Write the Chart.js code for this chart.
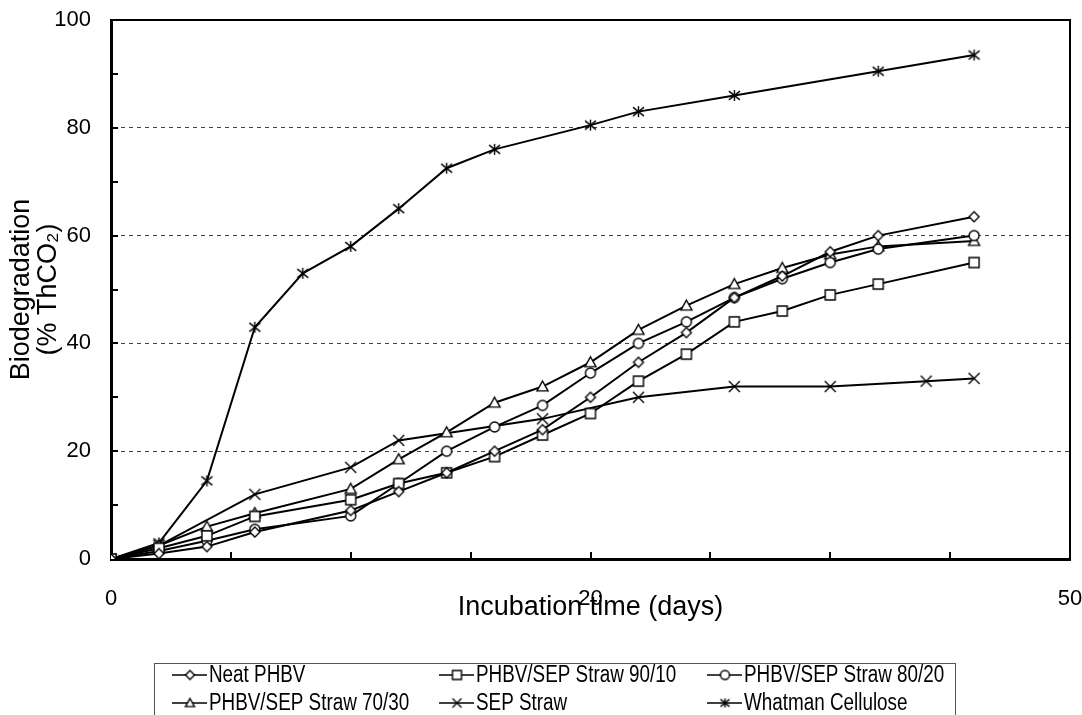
<!DOCTYPE html>
<html>
<head>
<meta charset="utf-8">
<title>Biodegradation</title>
<script src="https://cdn.jsdelivr.net/npm/chart.js@4.4.1/dist/chart.umd.min.js"></script>
<style>
    html, body { margin: 0; padding: 0; background: #fff; }
    canvas { display: block; }
</style>
</head>
<body>
<canvas id="chart" width="1082" height="715"></canvas>
<script>
// 图例名称
var seriesLabels = ['Neat PHBV', 'PHBV/SEP Straw 90/10', 'PHBV/SEP Straw 80/20',
                    'PHBV/SEP Straw 70/30', 'SEP Straw', 'Whatman Cellulose'];

// 时间（天）
var phbvDays = [0, 2, 4, 6, 10, 12, 14, 16, 18, 20, 22, 24, 26, 28, 30, 32, 36];
var sepDays = [0, 2, 6, 10, 12, 18, 22, 26, 30, 34, 36];
var celluloseDays = [0, 2, 4, 6, 8, 10, 12, 14, 16, 20, 22, 26, 32, 36];

// 生物降解率 (% ThCO2)
var neatPHBV  = [0, 1.0, 2.3, 5.0, 9.0, 12.5, 16.0, 20.0, 24.0, 30.0, 36.5, 42.0, 48.5, 52.5, 57.0, 60.0, 63.5];
var straw9010 = [0, 2.0, 4.3, 7.9, 11.0, 14.0, 16.0, 19.0, 23.0, 27.0, 33.0, 38.0, 44.0, 46.0, 49.0, 51.0, 55.0];
var straw8020 = [0, 1.5, 3.4, 5.5, 8.0, 14.0, 20.0, 24.5, 28.5, 34.5, 40.0, 44.0, 48.5, 52.0, 55.0, 57.5, 60.0];
var straw7030 = [0, 2.5, 6.0, 8.5, 13.0, 18.5, 23.5, 29.0, 32.0, 36.5, 42.5, 47.0, 51.0, 54.0, 56.5, 58.0, 59.0];
var sepStraw  = [0, 2.5, 12.0, 17.0, 22.0, 26.0, 30.0, 32.0, 32.0, 33.0, 33.5];
var cellulose = [0, 3.0, 14.5, 43.0, 53.0, 58.0, 65.0, 72.5, 76.0, 80.5, 83.0, 86.0, 90.5, 93.5];

// 坐标轴刻度
var xTickValues = [0, 20, 40];
var xTickLabels = ['0', '20', '50'];
var yTickValues = [0, 20, 40, 60, 80, 100];

var FONT = '"Liberation Sans", Arial, sans-serif';

// 标记符号（白底黑边）
function makeMarker(kind, s) {
    var n = Math.ceil(2 * s + 4);
    var c = document.createElement('canvas');
    c.width = n; c.height = n;
    var g = c.getContext('2d');
    var m = n / 2;
    g.lineWidth = 1.4;
    g.strokeStyle = '#000';
    g.fillStyle = '#fff';
    g.beginPath();
    if (kind == 'diamond') {
        g.moveTo(m, m - s); g.lineTo(m + s, m); g.lineTo(m, m + s); g.lineTo(m - s, m); g.closePath();
        g.fill(); g.stroke();
    } else if (kind == 'square') {
        g.rect(m - s, m - s, 2 * s, 2 * s);
        g.fill(); g.stroke();
    } else if (kind == 'circle') {
        g.arc(m, m, s, 0, Math.PI * 2);
        g.fill(); g.stroke();
    } else if (kind == 'triangle') {
        g.moveTo(m, m - s); g.lineTo(m + s, m + s * 0.8); g.lineTo(m - s, m + s * 0.8); g.closePath();
        g.fill(); g.stroke();
    } else if (kind == 'x') {
        g.moveTo(m - s, m - s); g.lineTo(m + s, m + s);
        g.moveTo(m + s, m - s); g.lineTo(m - s, m + s);
        g.stroke();
    } else if (kind == 'star') {
        g.moveTo(m - s, m - s * 0.8); g.lineTo(m + s, m + s * 0.8);
        g.moveTo(m + s, m - s * 0.8); g.lineTo(m - s, m + s * 0.8);
        g.moveTo(m, m - s); g.lineTo(m, m + s);
        g.stroke();
    }
    return c;
}

var markerKinds = ['diamond', 'square', 'circle', 'triangle', 'x', 'star'];
var markerSizes = [5, 5, 5, 5.5, 5.5, 5.5];
var seriesDays = [phbvDays, phbvDays, phbvDays, phbvDays, sepDays, celluloseDays];
var seriesValues = [neatPHBV, straw9010, straw8020, straw7030, sepStraw, cellulose];

var datasets = [];
for (var i = 0; i < seriesLabels.length; i++) {
    var pts = [];
    for (var j = 0; j < seriesDays[i].length; j++) {
        pts.push({ x: seriesDays[i][j], y: seriesValues[i][j] });
    }
    datasets.push({
        label: seriesLabels[i],
        data: pts,
        borderColor: '#000',
        borderWidth: 2,
        pointStyle: makeMarker(markerKinds[i], markerSizes[i]),
        pointRadius: 5,
        tension: 0,
        fill: false
    });
}

// 边框和朝内的刻度线
var framePlugin = {
    id: 'frame',
    beforeDatasetsDraw: function (chart) {
        var ctx = chart.ctx, a = chart.chartArea;
        var xs = chart.scales.x, ys = chart.scales.y;
        ctx.save();
        ctx.strokeStyle = '#000';
        ctx.lineWidth = 2;
        ctx.beginPath();
        ctx.moveTo(a.left, a.top); ctx.lineTo(a.right, a.top); ctx.lineTo(a.right, a.bottom);
        ctx.stroke();
        ctx.beginPath();
        for (var v = 5; v < xs.max; v += 5) {
            var px = Math.round(xs.getPixelForValue(v));
            ctx.moveTo(px, a.bottom); ctx.lineTo(px, a.bottom - 7);
        }
        for (var w = 10; w < ys.max; w += 10) {
            var py = Math.round(ys.getPixelForValue(w));
            ctx.moveTo(a.left, py); ctx.lineTo(a.left + 7, py);
        }
        ctx.stroke();
        ctx.restore();
    }
};

// 底部图例（两行三列），文字横向压窄
var legendPlugin = {
    id: 'boxLegend',
    afterDraw: function (chart) {
        var ctx = chart.ctx;
        var colX = [209, 476, 744], rowY = [675, 703];
        ctx.save();
        ctx.strokeStyle = '#555';
        ctx.lineWidth = 1;
        ctx.strokeRect(154.5, 663.5, 801, 80);
        ctx.fillStyle = '#000';
        ctx.textBaseline = 'middle';
        chart.data.datasets.forEach(function (ds, i) {
            var tx = colX[i % 3], ty = rowY[Math.floor(i / 3)];
            ctx.beginPath();
            ctx.strokeStyle = '#000';
            ctx.lineWidth = 1.5;
            ctx.moveTo(tx - 37, ty); ctx.lineTo(tx - 2, ty);
            ctx.stroke();
            var mk = makeMarker(markerKinds[i], 4.5);
            ctx.drawImage(mk, tx - 19 - mk.width / 2, ty - mk.height / 2);
            ctx.save();
            ctx.translate(tx, ty + 1);
            ctx.scale(0.82, 1);
            ctx.font = '23px ' + FONT;
            ctx.fillText(ds.label, 0, 0);
            ctx.restore();
        });
        ctx.restore();
    }
};

var myChart = new Chart(document.getElementById('chart'), {
    type: 'line',
    data: { datasets: datasets },
    plugins: [framePlugin, legendPlugin],
    options: {
        responsive: false,
        devicePixelRatio: 1,
        animation: false,
        events: [],
        layout: { padding: { top: 20, right: 12, bottom: 86, left: 0 } },
        plugins: { legend: { display: false }, tooltip: { enabled: false } },
        scales: {
            x: {
                type: 'linear',
                min: 0,
                max: 40,
                afterBuildTicks: function (s) {
                    s.ticks = xTickValues.map(function (v) { return { value: v }; });
                },
                afterFit: function (s) {
                    s.height = 70;
                    s.paddingLeft = 0; s.paddingRight = 0;
                },
                grid: { display: false },
                border: { color: '#000', width: 3 },
                ticks: {
                    color: '#000',
                    padding: 19,
                    maxRotation: 0,
                    autoSkip: false,
                    font: { family: FONT, size: 22 },
                    callback: function (v) { return xTickLabels[xTickValues.indexOf(v)]; }
                },
                title: {
                    display: true,
                    text: 'Incubation time (days)',
                    color: '#000',
                    font: { family: FONT, size: 27, lineHeight: 1 },
                    padding: { top: 0, bottom: 7.5 }
                }
            },
            y: {
                min: 0,
                max: 100,
                afterBuildTicks: function (s) {
                    s.ticks = yTickValues.map(function (v) { return { value: v }; });
                },
                afterFit: function (s) {
                    s.width = 111;
                    s.paddingTop = 0; s.paddingBottom = 0;
                },
                grid: {
                    drawTicks: false,
                    lineWidth: 1,
                    color: function (c) {
                        var v = c.tick ? c.tick.value : 0;
                        return (v == 0 || v == 100) ? 'rgba(0,0,0,0)' : '#444';
                    }
                },
                border: { color: '#000', width: 3, dash: [4, 4] },
                ticks: {
                    color: '#000',
                    padding: 20,
                    font: { family: FONT, size: 22 }
                },
                title: {
                    display: true,
                    text: ['Biodegradation', '(% ThCO\u2082)'],
                    color: '#000',
                    font: { family: FONT, size: 27, lineHeight: 1 },
                    padding: { top: 8.5, bottom: 0 }
                }
            }
        }
    }
});
</script>
</body>
</html>
